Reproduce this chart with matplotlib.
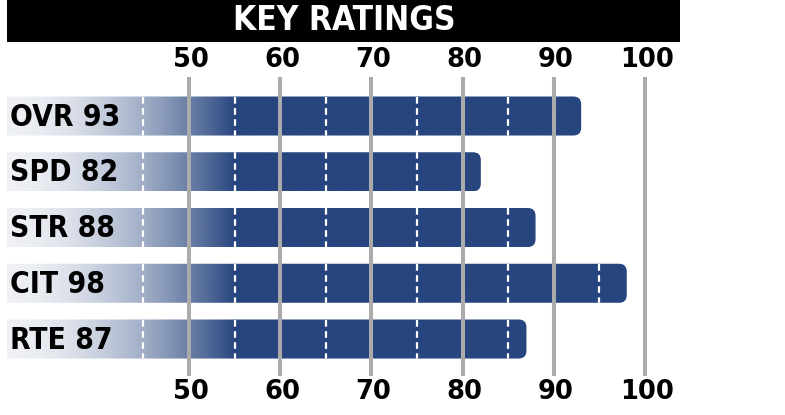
import numpy as np
import matplotlib
matplotlib.use("Agg")
import matplotlib.pyplot as plt
from matplotlib.patches import FancyBboxPatch, Rectangle
from matplotlib.colors import to_rgb

# data
categories = ["OVR", "SPD", "STR", "CIT", "RTE"]
ratings = [93, 82, 88, 98, 87]
tick_values = [50, 60, 70, 80, 90, 100]
dash_values = [45, 55, 65, 75, 85, 95]
bar_start = 30
fade_end = 55

BLUE = "#27457e"
GRID = "#ababab"
FONT = "DejaVu Sans"

fig = plt.figure(figsize=(7.85, 4.15), dpi=100)
ax = fig.add_axes([0, 0, 1, 1])
ax.set_xlim(29.28, 115.35)
ax.set_ylim(5.363, -2.081)
ax.axis("off")

half = 0.35
rgb = np.array(to_rgb(BLUE))

for row, (cat, val) in enumerate(zip(categories, ratings)):
    # gradient fill, light on the left -> solid blue from 55 on
    xs = np.linspace(bar_start, val, 400)
    t = np.clip((xs - bar_start) / (fade_end - bar_start), 0, 1)
    alpha = 0.08 + 0.92 * t ** 1.8
    img = np.zeros((1, len(xs), 4))
    img[0, :, :3] = rgb
    img[0, :, 3] = alpha
    im = ax.imshow(img, extent=(bar_start, val, row + half, row - half),
                   aspect="auto", interpolation="bilinear", zorder=2)
    clip = FancyBboxPatch((bar_start - 1.5, row - half), val - bar_start + 1.5, 2 * half,
                          boxstyle="round,pad=0,rounding_size=0.85",
                          mutation_aspect=0.1637, facecolor="none",
                          edgecolor="none", transform=ax.transData)
    ax.add_patch(clip)
    im.set_clip_path(clip)

    # white dashed markers between gridlines
    for d in dash_values:
        if d < val - 0.5:
            ln, = ax.plot([d, d], [row - half, row + half], color="white",
                          lw=1.6, zorder=3)
            ln.set_dashes((3, 2))
            ln.set_clip_path(clip)

    ax.text(30.4, row + 0.02, f"{cat} {val}", ha="left", va="center",
            fontsize=21.5, fontweight="bold", fontstretch="condensed",
            family=FONT, color="black", zorder=5)

# gridlines on top of bars
ax.vlines(tick_values, -0.70, 4.66, color=GRID, lw=2.9, zorder=4)

for v in tick_values:
    ax.text(v + 0.2, -1.0, str(v), ha="center", va="center", fontsize=18.5,
            fontweight="bold", family=FONT, color="black")
    ax.text(v + 0.2, 4.95, str(v), ha="center", va="center", fontsize=18.5,
            fontweight="bold", family=FONT, color="black")

# title band
fig.patches.append(Rectangle((7 / 785, 373 / 415), 673 / 785, 42 / 415,
                             transform=fig.transFigure, facecolor="black",
                             edgecolor="none", zorder=0))
fig.text(344 / 785, 1 - 21 / 415, "KEY RATINGS", ha="center", va="center",
         color="white", fontsize=24, fontweight="bold", fontstretch="condensed",
         family=FONT)

fig.savefig("out.png", dpi=100)
